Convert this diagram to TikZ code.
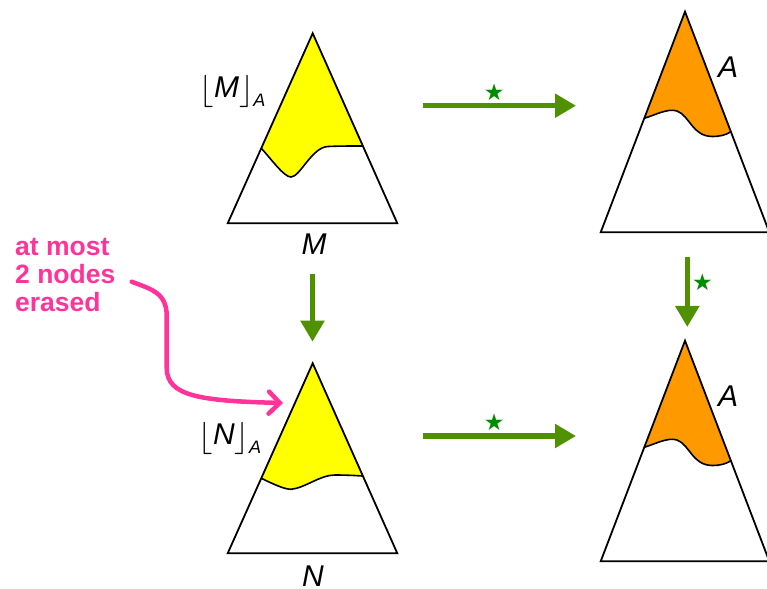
\documentclass[tikz,border=0pt]{standalone}
\usepackage{graphicx}
\usepackage{fontspec}
\setmainfont{Liberation Sans}
\newfontfamily\starfont{DejaVu Sans}
\usetikzlibrary{arrows.meta}
\definecolor{arrgreen}{RGB}{80,145,0}
\definecolor{stargreen}{RGB}{0,140,0}
\definecolor{hotpink}{RGB}{255,51,153}
\definecolor{myyellow}{RGB}{255,255,0}
\definecolor{myorange}{RGB}{255,153,0}
\newcommand{\lfl}{\raisebox{-2pt}{\scalebox{1.3}{\fontsize{24.88}{26}\selectfont$\lfloor$}}}
\newcommand{\rfl}{\raisebox{-2pt}{\scalebox{1.3}{\fontsize{24.88}{26}\selectfont$\rfloor$}}}
\begin{document}
\begin{tikzpicture}[x=1pt,y=1pt,
  tri/.style={draw=black,line width=1.8pt,line join=miter},
  cutline/.style={draw=black,line width=1.6pt},
  bigarrow/.style={draw=arrgreen,line width=5.5pt,-{Triangle[length=21pt,width=23pt]}},
  starlbl/.style={text=stargreen,font=\starfont\fontsize{23}{23}\selectfont,inner sep=0pt},
  lbl/.style={font=\fontsize{30}{34}\selectfont\itshape,inner sep=0pt},
  notetext/.style={text=hotpink,font=\fontsize{26.5}{28}\selectfont\bfseries,align=left,inner sep=0pt},
  pinkarrow/.style={draw=hotpink,line width=4.5pt,line cap=round,-{Straight Barb[length=11pt,width=22pt,line cap=round]}}]
\useasboundingbox (0,0) rectangle (767,588);

% ---------- top-left triangle (M) ----------
\fill[myyellow] (312.7,554.7) -- (261.3,439.7) .. controls (272,428) and (284,411) .. (291,411)
  .. controls (300,411) and (312,441) .. (328,441.5) .. controls (340,442) and (352,442) .. (362.5,442) -- cycle;
\draw[cutline] (261.3,439.7) .. controls (272,428) and (284,411) .. (291,411)
  .. controls (300,411) and (312,441) .. (328,441.5) .. controls (340,442) and (352,442) .. (362.5,442);
\draw[tri] (312.7,554.7) -- (227.7,364.7) -- (397.3,364.7) -- cycle;
\node[lbl,anchor=base west] (lblMA) at (199.5,490.7) {\lfl\itshape M\rfl\raisebox{-9pt}{\fontsize{18}{18}\selectfont\itshape A}};
\node[lbl] (lblM) at (314,343.5) {M};

% ---------- bottom-left triangle (N) ----------
\begin{scope}[yshift=-330pt]
\fill[myyellow] (312.7,554.7) -- (261.3,439.7) .. controls (275,433) and (285,428.7) .. (291,428.7)
  .. controls (305,430) and (320,443) .. (335,443) .. controls (345,443) and (355,442.5) .. (362.5,442) -- cycle;
\draw[cutline] (261.3,439.7) .. controls (275,433) and (285,428.7) .. (291,428.7)
  .. controls (305,430) and (320,443) .. (335,443) .. controls (345,443) and (355,442.5) .. (362.5,442);
\draw[tri] (312.7,554.7) -- (227.7,364.7) -- (397.3,364.7) -- cycle;
\end{scope}
\node[lbl,anchor=base west] (lblNA) at (198.5,143) {\lfl\itshape N\rfl\raisebox{-9pt}{\fontsize{18}{18}\selectfont\itshape A}};
\node[lbl] (lblN) at (313,12) {N};

% ---------- top-right triangle (A) ----------
\fill[myorange] (685,576.3) -- (644.3,469.7) .. controls (655,473) and (668,480) .. (677,477)
  .. controls (690,472) and (692,452) .. (712,451.5) .. controls (720,451.5) and (726,453) .. (730.9,456.3) -- cycle;
\draw[cutline] (644.3,469.7) .. controls (655,473) and (668,480) .. (677,477)
  .. controls (690,472) and (692,452) .. (712,451.5) .. controls (720,451.5) and (726,453) .. (730.9,456.3);
\draw[tri] (685,576.3) -- (600.7,355.7) -- (769.3,355.7) -- cycle;
\node[lbl] (lblA1) at (728,520.5) {A};

% ---------- bottom-right triangle (A) ----------
\begin{scope}[yshift=-329pt]
\fill[myorange] (685,576.3) -- (644.3,469.7) .. controls (655,473) and (668,480) .. (677,477)
  .. controls (690,472) and (692,452) .. (712,451.5) .. controls (720,451.5) and (726,453) .. (730.9,456.3) -- cycle;
\draw[cutline] (644.3,469.7) .. controls (655,473) and (668,480) .. (677,477)
  .. controls (690,472) and (692,452) .. (712,451.5) .. controls (720,451.5) and (726,453) .. (730.9,456.3);
\draw[tri] (685,576.3) -- (600.7,355.7) -- (769.3,355.7) -- cycle;
\end{scope}
\node[lbl] (lblA2) at (728,191.5) {A};

% ---------- green arrows ----------
\coordinate (h1s) at (422.7,482.3);
\coordinate (h1e) at (576,482.3);
\draw[bigarrow] (h1s) -- (h1e);
\node[starlbl] (star1) at (494.3,495.5) {★};

\coordinate (h2s) at (422.7,152);
\coordinate (h2e) at (576,152);
\draw[bigarrow] (h2s) -- (h2e);
\node[starlbl] (star2) at (494.3,165.5) {★};

\coordinate (v1s) at (312.5,314);
\coordinate (v1e) at (312.5,246.3);
\draw[bigarrow] (v1s) -- (v1e);

\coordinate (v2s) at (687.3,331);
\coordinate (v2e) at (687.3,261);
\draw[bigarrow] (v2s) -- (v2e);
\node[starlbl] (star3) at (702.5,305.5) {★};

% ---------- pink note ----------
\node[notetext,anchor=north west] (note) at (15,350) {at most\\2 nodes\\erased};
\coordinate (pstart) at (131.7,306.3);
\coordinate (pend) at (283,185);
\draw[pinkarrow] (pstart) .. controls (150,299) and (166.7,296) .. (166.7,272) -- (166.7,220)
  .. controls (166.7,192) and (200,187) .. (pend);
\end{tikzpicture}
\end{document}
